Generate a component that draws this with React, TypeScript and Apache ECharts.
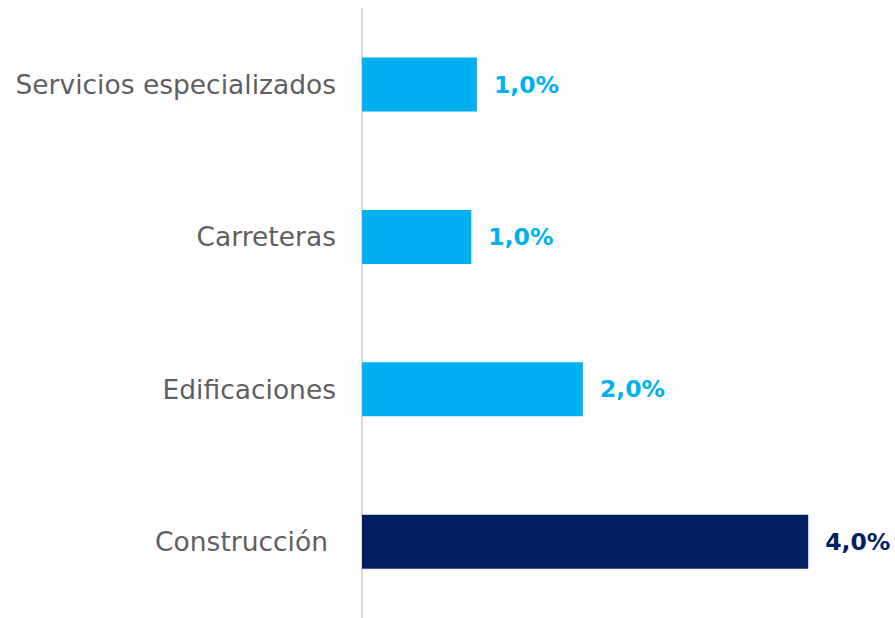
import React, { useEffect, useRef } from "react";
import * as echarts from "echarts";

const categories = ["Construcción", "Edificaciones", "Carreteras", "Servicios especializados"];
const values = [4.0, 1.98, 0.98, 1.03];
const barColors = ["#002060", "#00B0F0", "#00B0F0", "#00B0F0"];
const labelTexts = ["4,0%", "2,0%", "1,0%", "1,0%"];

export default function App() {
  const ref = useRef<HTMLDivElement>(null);
  useEffect(() => {
    document.body.style.margin = "0";
    const chart = echarts.init(ref.current!, null, { renderer: "svg" });
    chart.setOption({
      animation: false,
      grid: { left: 362, top: 8.3, width: 502, height: 613.5 },
      xAxis: {
        type: "value",
        min: 0,
        max: 4.5,
        show: false,
      },
      yAxis: {
        type: "category",
        data: categories,
        axisLine: { show: true, lineStyle: { color: "#d9d9d9", width: 2 } },
        axisTick: { show: false },
        axisLabel: {
          margin: 26,
          color: "#5f5f5f",
          fontSize: 26.5,
          fontFamily: "DejaVu Sans",
          formatter: (v: string) => (v === "Construcción" ? "{c|" + v + "}" : v),
          rich: {
            c: { color: "#5f5f5f", fontSize: 26.5, fontFamily: "DejaVu Sans", padding: [0, 8, 0, 0] },
          },
        },
      },
      series: [
        {
          type: "bar",
          barWidth: 54,
          data: values.map((v, i) => ({
            value: v,
            itemStyle: { color: barColors[i] },
            label: {
              show: true,
              position: "right",
              distance: 17,
              color: barColors[i],
              fontSize: 23.5,
              fontWeight: "bold",
              fontFamily: "DejaVu Sans",
              formatter: () => labelTexts[i],
            },
          })),
        },
      ],
    });
    return () => chart.dispose();
  }, []);
  return <div ref={ref} style={{ width: 895, height: 618 }} />;
}
